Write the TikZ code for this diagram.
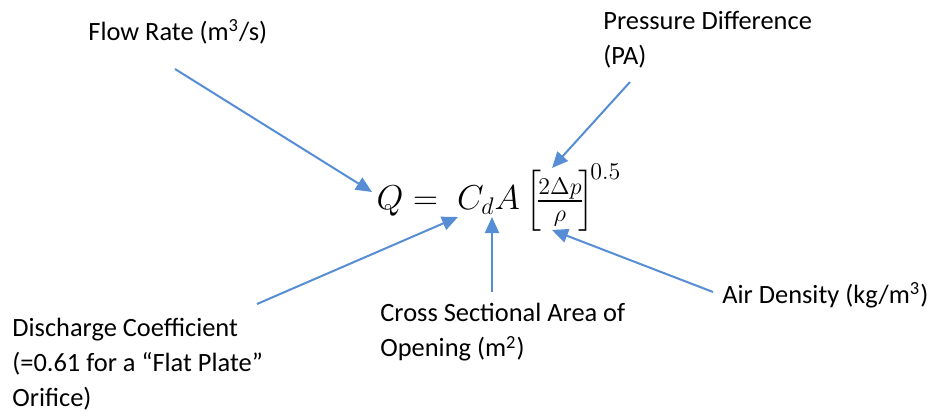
\documentclass[tikz,border=0pt]{standalone}
\usepackage{amsmath,amssymb}
\usepackage{fontspec}
\setmainfont{Carlito}
\usepackage{tikz}
\usepackage{xcolor}
\usetikzlibrary{arrows.meta,positioning}

\definecolor{arrblue}{RGB}{86,141,212}

\begin{document}
\begin{tikzpicture}[
    x=0.5pt,y=-0.5pt,
    lbl/.style={anchor=north west,inner sep=0pt,align=left,font=\fontsize{13.2}{17.5}\selectfont},
    eqn/.style={inner sep=0pt,font=\fontsize{17}{20}\selectfont},
    arr/.style={-{Triangle[length=8pt,width=7pt]},draw=arrblue,fill=arrblue,line width=1pt}
]
\useasboundingbox (0,0) rectangle (927,417);

\node[eqn] (eq) at (499,198) {$Q = \;C_d A \left[\!\tfrac{2\Delta p}{\rho}\!\right]^{\!0.5}$};

\node[lbl] (flow) at (88,19) {Flow Rate (m\textsuperscript{3}/s)};
\node[lbl] (press) at (603,11) {Pressure Difference\\(PA)};
\node[lbl] (disch) at (12,318) {Discharge Coefficient\\(=0.61 for a “Flat Plate”\\Orifice)};
\node[lbl] (cross) at (380,303) {Cross Sectional Area of\\Opening (m\textsuperscript{2})};
\node[lbl] (air) at (722,282) {Air Density (kg/m\textsuperscript{3})};

% arrow ends
\coordinate (flowS) at (175,69);   \coordinate (flowT) at (372,192);
\coordinate (pressS) at (630,82);  \coordinate (pressT) at (552,168);
\coordinate (dischS) at (257,304); \coordinate (dischT) at (458,217);
\coordinate (crossS) at (492,292); \coordinate (crossT) at (492,217);
\coordinate (airS) at (713,292);   \coordinate (airT) at (552,230);

\draw[arr] (flowS) -- (flowT);
\draw[arr] (pressS) -- (pressT);
\draw[arr] (dischS) -- (dischT);
\draw[arr] (crossS) -- (crossT);
\draw[arr] (airS) -- (airT);
\end{tikzpicture}
\end{document}
